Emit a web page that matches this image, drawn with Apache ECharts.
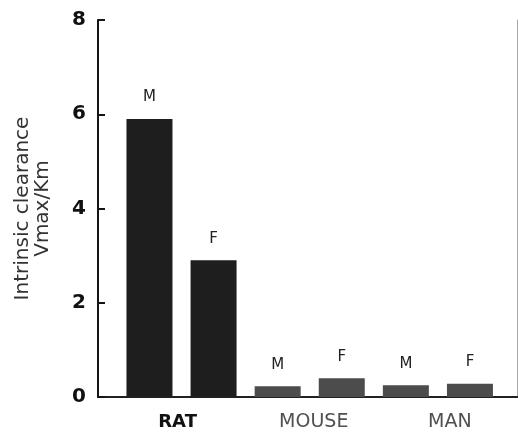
<!DOCTYPE html>
<html>
<head>
<meta charset="utf-8">
<script src="https://cdn.jsdelivr.net/npm/echarts@6/dist/echarts.min.js"></script>
<style>
html, body { margin: 0; padding: 0; background: #fff; }
#chart { width: 518px; height: 436px; }
</style>
</head>
<body>
<div id="chart"></div>
<script>
// species groups (x axis labels)
var groups = ['RAT', 'MOUSE', 'MAN'];
// sex of each bar, left to right
var sexes = ['M', 'F', 'M', 'F', 'M', 'F'];
// intrinsic clearance Vmax/Km, one per bar
var clearance = [5.9, 2.9, 0.23, 0.40, 0.25, 0.28];
var yTicks = [0, 2, 4, 6, 8];

var barData = [];
for (var i = 0; i < clearance.length; i++) {
	barData.push([i + 1, clearance[i]]);
}

var chart = echarts.init(document.getElementById('chart'));
chart.setOption({
	backgroundColor: '#fff',
	animation: false,
	grid: [
		{left: 98, top: 20, width: 419, bottom: 39},
		{left: 109.5, top: 20, width: 417, bottom: 39}
	],
	xAxis: [
		{
			type: 'value', gridIndex: 0, min: 0.197, max: 6.734,
			axisLine: {show: true, onZero: false, lineStyle: {color: '#151515', width: 2}},
			axisTick: {show: false}, axisLabel: {show: false}, splitLine: {show: false}
		},
		{
			type: 'value', gridIndex: 0, position: 'top', min: 0.197, max: 6.734,
			axisLine: {show: true, lineStyle: {color: '#222', width: 2}},
			axisTick: {show: false}, axisLabel: {show: false}, splitLine: {show: false}
		},
		{
			type: 'category', gridIndex: 1, data: groups,
			axisLine: {show: false}, axisTick: {show: false},
			axisLabel: {
				margin: 16,
				formatter: function (v, idx) {
					return idx === 0 ? '{a|' + v + '}' : '{b|' + v + '}';
				},
				rich: {
					a: {fontFamily: 'DejaVu Sans', fontSize: 18, fontWeight: 'bold', color: '#111'},
					b: {fontFamily: 'DejaVu Sans', fontSize: 19, color: '#505050'}
				}
			}
		}
	],
	yAxis: [
		{
			type: 'value', gridIndex: 0, min: 0, max: 8, interval: 2,
			name: 'Intrinsic clearance\nVmax/Km',
			nameLocation: 'middle', nameGap: 45, nameRotate: 90,
			nameTextStyle: {fontFamily: 'DejaVu Sans', fontSize: 20, color: '#333', lineHeight: 20},
			axisLine: {show: true, lineStyle: {color: '#151515', width: 2}},
			axisTick: {show: true, inside: true, length: 7, lineStyle: {color: '#151515', width: 2}},
			axisLabel: {
				margin: 12, fontFamily: 'DejaVu Sans', fontWeight: 'bold',
				fontSize: 20, color: '#111',
				formatter: function (v) { return yTicks.indexOf(v) >= 0 ? String(v) : ''; }
			},
			splitLine: {show: false}
		},
		{
			type: 'value', gridIndex: 0, position: 'right', min: 0, max: 8,
			axisLine: {show: true, lineStyle: {color: '#aaa', width: 1}},
			axisTick: {show: false}, axisLabel: {show: false}, splitLine: {show: false}
		},
		{
			type: 'value', gridIndex: 1, show: false
		}
	],
	series: [{
		type: 'bar',
		xAxisIndex: 0,
		yAxisIndex: 0,
		barWidth: 46,
		data: barData,
		itemStyle: {
			color: function (p) { return p.dataIndex < 2 ? '#1e1e1e' : '#4c4c4c'; }
		},
		label: {
			show: true, position: 'top', distance: 14,
			fontFamily: 'DejaVu Sans', fontSize: 15, color: '#222',
			formatter: function (p) { return sexes[p.dataIndex]; }
		}
	}]
});
</script>
</body>
</html>
